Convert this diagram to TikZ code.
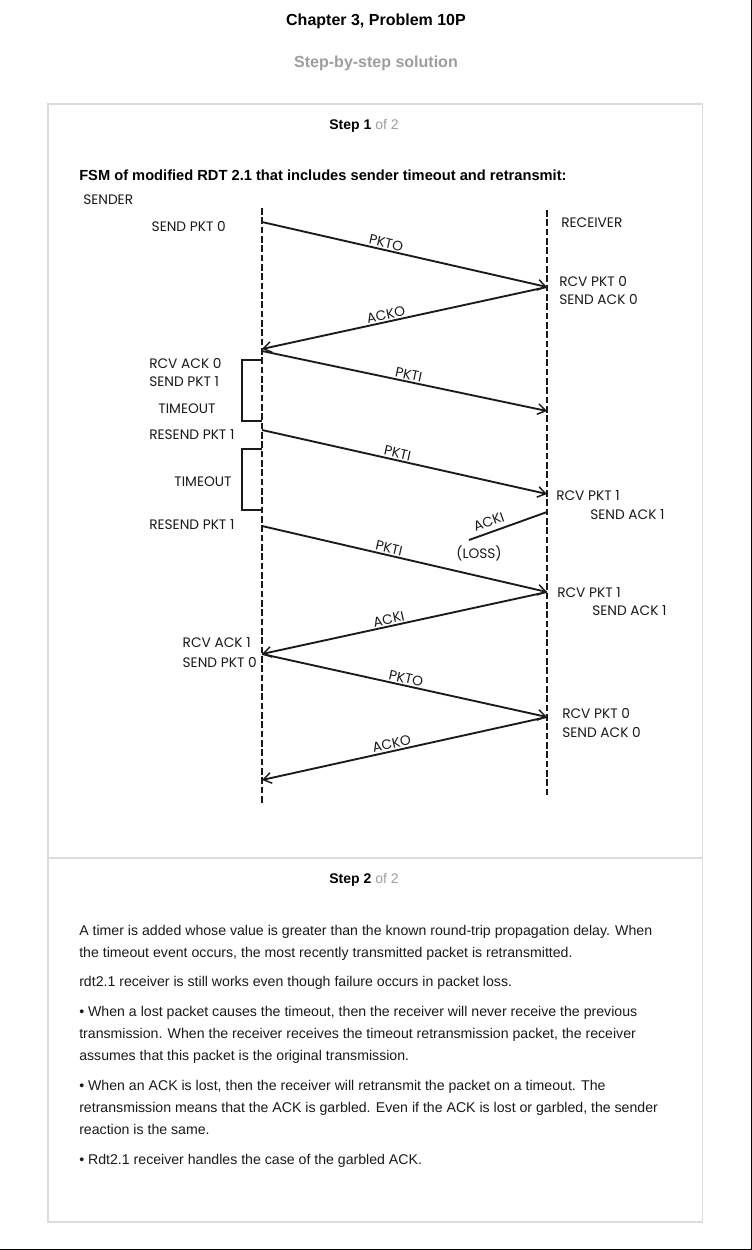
\documentclass[tikz,border=0pt]{standalone}
\usepackage{fontspec}
\setmainfont{Liberation Sans}
\newfontfamily\gothic{Poppins}
\usepackage{xcolor}
\usetikzlibrary{arrows.meta,positioning}
\definecolor{frameGray}{HTML}{DCDCDC}
\definecolor{mutedGray}{HTML}{9E9E9E}
\definecolor{inkBlack}{HTML}{1A1A1A}
\newcommand{\stepof}[1]{\textbf{Step #1} {\color{mutedGray}of 2}}

\begin{document}
\begin{tikzpicture}[x=0.75pt, y=-0.75pt, font=\fontsize{10.6}{12}\selectfont,
  lifeline/.style={line width=1.5pt, dash pattern=on 5pt off 2pt, draw=inkBlack},
  msg/.style={line width=1.4pt, draw=inkBlack, -{Straight Barb[length=6pt,width=8pt,line width=1.1pt]}},
  lostmsg/.style={line width=1.4pt, draw=inkBlack},
  bracket/.style={line width=1.4pt, draw=inkBlack},
  state/.style={font=\gothic\fontsize{10.3}{12}\selectfont, text=inkBlack, inner sep=0pt},
  msglabel/.style={font=\gothic\fontsize{10.3}{12}\selectfont, text=inkBlack, sloped, above=1pt, inner sep=0pt},
  bodyline/.style={anchor=base west, inner sep=0pt, text=inkBlack}]
% page: 752 x 1250 px, y grows downward
\useasboundingbox (0,0) rectangle (752,1250);
\fill[white] (0,0) rectangle (752,1250);
\draw[line width=1pt] (751.3,0) -- (751.3,1249.3) -- (0,1249.3);
% ---------------- headings ----------------
\node[font=\bfseries\fontsize{12}{14}\selectfont] (title) at (376,21) {Chapter 3, Problem 10P};
\node[font=\bfseries\fontsize{12}{14}\selectfont, text=mutedGray] (sub) at (376,63) {Step-by-step solution};
% card with two steps
\draw[frameGray, line width=0.8pt] (48,104) rectangle (702.5,1222);
\draw[frameGray, line width=0.8pt] (48,858) -- (702.5,858);
\node[font=\fontsize{10.5}{12}\selectfont] (step1) at (364,126) {\stepof{1}};
\node[font=\fontsize{10.5}{12}\selectfont] (step2) at (364,880) {\stepof{2}};
\node[anchor=west, inner sep=0pt, font=\bfseries\fontsize{11}{13}\selectfont] (fsm) at (79,175)
  {FSM of modified RDT 2.1 that includes sender timeout and retransmit:};
% ---------------- sequence diagram ----------------
\node[state, anchor=west] (sender) at (83,200) {SENDER};
\node[state, anchor=west] (receiver) at (561,223) {RECEIVER};
\draw[lifeline] (262,208) coordinate (sTop) -- (262,805) coordinate (sBot);
\draw[lifeline] (547,210) coordinate (rTop) -- (547,797) coordinate (rBot);
% points where messages leave / arrive
\coordinate (s1) at (262,222);  \coordinate (r1) at (547,287);
\coordinate (s2) at (262,349);  \coordinate (s3) at (262,351);
\coordinate (r3) at (547,411);  \coordinate (s4) at (262,430);
\coordinate (r4) at (547,494);  \coordinate (r5) at (547,512);
\coordinate (lost) at (469,540);
\coordinate (s6) at (262,526);  \coordinate (r6) at (547,592);
\coordinate (s7) at (262,654);  \coordinate (r7) at (547,717);
\coordinate (s8) at (262,780);
% sender side states
\node[state, anchor=east] (sp0) at (226,227) {SEND PKT 0};
\node[state, anchor=west] (ra0) at (149,363) {RCV ACK 0};
\node[state, anchor=west] (sp1) at (149,382) {SEND PKT 1};
\node[state] (to1) at (187,409) {TIMEOUT};
\node[state, anchor=west] (rs1) at (149,435) {RESEND PKT 1};
\node[state] (to2) at (203,482) {TIMEOUT};
\node[state, anchor=west] (rs2) at (149,525) {RESEND PKT 1};
\node[state, anchor=east] (ra1) at (251,643) {RCV ACK 1};
\node[state, anchor=west] (sp2) at (ra1.west |- 0,662) {SEND PKT 0};
% receiver side states
\node[state, anchor=west] (rp0) at (559,281) {RCV PKT 0};
\node[state, anchor=west] (sa0) at (559,300) {SEND ACK 0};
\node[state, anchor=west] (rp1) at (556,496) {RCV PKT 1};
\node[state, anchor=west] (sa1) at (590,515) {SEND ACK 1};
\node[state, anchor=west] (rp2) at (557,593) {RCV PKT 1};
\node[state, anchor=west] (sa2) at (592,611) {SEND ACK 1};
\node[state, anchor=west] (rp3) at (562,713) {RCV PKT 0};
\node[state, anchor=west] (sa3) at (562,732) {SEND ACK 0};
% timeout brackets
\draw[bracket] (262,360) -| (242,421) -- (262,421);
\draw[bracket] (262,449) -| (242,510) -- (262,510);
% messages
\draw[msg] (s1) -- node[msglabel, pos=0.43] {PKTO} (r1);
\draw[msg] (r1) -- node[msglabel, pos=0.56] {ACKO} (s2);
\draw[msg] (s3) -- node[msglabel, pos=0.51] {PKTI} (r3);
\draw[msg] (s4) -- node[msglabel, pos=0.47] {PKTI} (r4);
\draw[lostmsg] (r5) -- node[msglabel, pos=0.7, above=3.5pt] {ACKI} (lost);
\node[state] (loss) at (479,553) {(LOSS)};
\draw[msg] (s6) -- node[msglabel, pos=0.44] {PKTI} (r6);
\draw[msg] (r6) -- node[msglabel, pos=0.55] {ACKI} (s7);
\draw[msg] (s7) -- node[msglabel, pos=0.5] {PKTO} (r7);
\draw[msg] (r7) -- node[msglabel, pos=0.54] {ACKO} (s8);
% ---------------- step 2 text ----------------
\node[bodyline] (b1) at (79,935) {A timer is added whose value is greater than the known round-trip propagation delay. When};
\node[bodyline] (b2) at (79,957) {the timeout event occurs, the most recently transmitted packet is retransmitted.};
\node[bodyline] (b3) at (79,986) {rdt2.1 receiver is still works even though failure occurs in packet loss.};
\node[bodyline] (b4) at (79,1016) {• When a lost packet causes the timeout, then the receiver will never receive the previous};
\node[bodyline] (b5) at (79,1038) {transmission. When the receiver receives the timeout retransmission packet, the receiver};
\node[bodyline] (b6) at (79,1060) {assumes that this packet is the original transmission.};
\node[bodyline] (b7) at (79,1090) {• When an ACK is lost, then the receiver will retransmit the packet on a timeout. The};
\node[bodyline] (b8) at (79,1112) {retransmission means that the ACK is garbled. Even if the ACK is lost or garbled, the sender};
\node[bodyline] (b9) at (79,1134) {reaction is the same.};
\node[bodyline] (b10) at (79,1164) {• Rdt2.1 receiver handles the case of the garbled ACK.};
\end{tikzpicture}
\end{document}
